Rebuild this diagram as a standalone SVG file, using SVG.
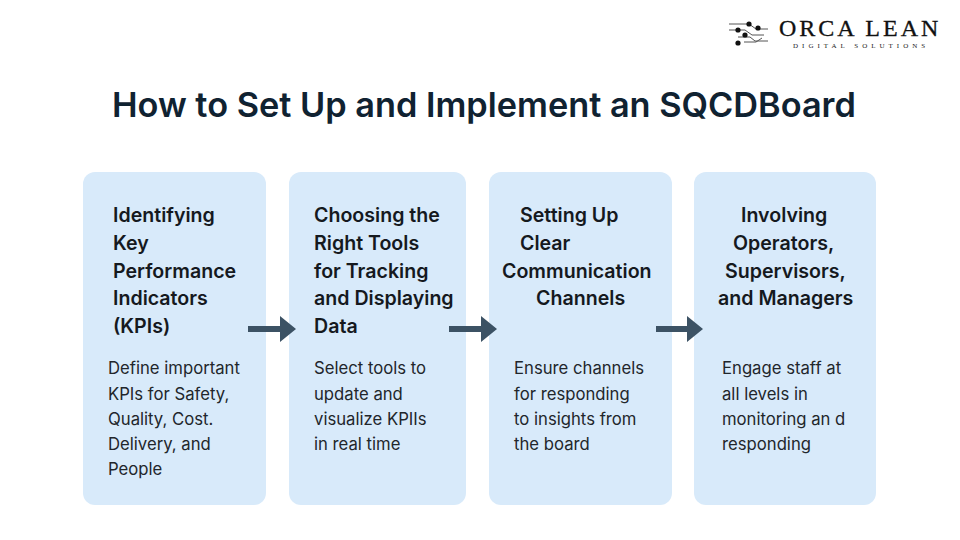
<svg xmlns="http://www.w3.org/2000/svg" width="960" height="540" viewBox="0 0 960 540">
<style>
.card{fill:#d8eafa}
.h{font:600 19.6px Inter,"Noto Sans",sans-serif;fill:#15191e}
.b{font:400 16.7px Inter,"Noto Sans",sans-serif;fill:#22262b}
.arrow{fill:#3c5264}
.ln{stroke:#555;stroke-width:1;fill:none}
.dot{fill:#111}
</style>
<rect width="960" height="540" fill="#fff"/>
<g id="logo">
<path class="ln" d="M729 24H749L756 29H768M729 30H745L752 35H764M738 37H750L755 41H768M744 42H756L762 38"/>
<circle class="dot" cx="749" cy="24" r="2.6"/><circle class="dot" cx="758" cy="28" r="2.6"/><circle class="dot" cx="738" cy="30" r="2.6"/><circle class="dot" cx="745" cy="35" r="2.6"/><circle class="dot" cx="738" cy="43" r="2.6"/>
<text x="779" y="36" style="font:400 24px 'Liberation Serif',serif;letter-spacing:3px;fill:#111;stroke:#111;stroke-width:.3px">ORCA LEAN</text>
<text x="793" y="48" style="font:400 7px 'Liberation Serif',serif;letter-spacing:4px;fill:#222">DIGITAL SOLUTIONS</text>
</g>
<text id="title" x="112" y="117" style="font:600 34.3px Inter,'Noto Sans',sans-serif;fill:#102231">How to Set Up and Implement an SQCDBoard</text>
<g id="node1"><rect class="card" x="83" y="172" width="183" height="333" rx="12"/>
<text class="h" x="113" y="222">Identifying</text><text class="h" x="113" y="250">Key</text><text class="h" x="113" y="278">Performance</text><text class="h" x="113" y="305">Indicators</text><text class="h" x="113" y="333">(KPIs)</text>
<text class="b" x="108" y="374">Define important</text><text class="b" x="108" y="400">KPIs for Safety,</text><text class="b" x="108" y="425">Quality, Cost.</text><text class="b" x="108" y="450">Delivery, and</text><text class="b" x="108" y="475">People</text></g>
<g id="node2"><rect class="card" x="289" y="172" width="177" height="333" rx="12"/>
<text class="h" x="314" y="222">Choosing the</text><text class="h" x="314" y="250">Right Tools</text><text class="h" x="314" y="278">for Tracking</text><text class="h" x="314" y="305">and Displaying</text><text class="h" x="314" y="333">Data</text>
<text class="b" x="314" y="374">Select tools to</text><text class="b" x="314" y="400">update and</text><text class="b" x="314" y="425">visualize KPIIs</text><text class="b" x="314" y="450">in real time</text></g>
<g id="node3"><rect class="card" x="489" y="172" width="183" height="333" rx="12"/>
<text class="h" x="520" y="222">Setting Up</text><text class="h" x="520" y="250">Clear</text><text class="h" x="502" y="278">Communication</text><text class="h" x="536" y="305">Channels</text>
<text class="b" x="514" y="374">Ensure channels</text><text class="b" x="514" y="400">for responding</text><text class="b" x="514" y="425">to insights from</text><text class="b" x="514" y="450">the board</text></g>
<g id="node4"><rect class="card" x="694" y="172" width="182" height="333" rx="12"/>
<text class="h" x="741" y="222">Involving</text><text class="h" x="733" y="250">Operators,</text><text class="h" x="725" y="278">Supervisors,</text><text class="h" x="718" y="305">and Managers</text>
<text class="b" x="722" y="374">Engage staff at</text><text class="b" x="722" y="400">all levels in</text><text class="b" x="722" y="425">monitoring an d</text><text class="b" x="722" y="450">responding</text></g>
<g id="connectors">
<path class="arrow" d="M248 326H280V316L296 329L280 342V332H248Z"/>
<path class="arrow" d="M449 326H481V316L497 329L481 342V332H449Z"/>
<path class="arrow" d="M656 326H687V316L703 329L687 342V332H656Z"/>
</g>
</svg>
